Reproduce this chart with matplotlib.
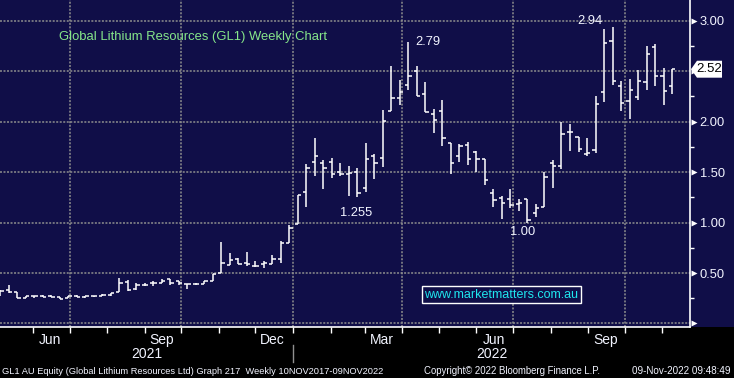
import matplotlib
matplotlib.use("Agg")
import matplotlib.pyplot as plt
import matplotlib.dates as mdates
import matplotlib.transforms as mtransforms
from matplotlib.patches import Rectangle, Polygon
import numpy as np
import pandas as pd

# weekly OHLC bars, GL1 AU
opens = [0.30, 0.33, 0.31, 0.25, 0.27, 0.27, 0.27, 0.26, 0.25, 0.27,
         0.26, 0.27, 0.27, 0.28, 0.31, 0.41, 0.34, 0.38, 0.40, 0.40,
         0.44, 0.42, 0.39, 0.39, 0.39, 0.42, 0.50, 0.58, 0.64, 0.60,
         0.57, 0.59, 0.59, 0.64, 0.80, 0.99, 1.30, 1.60, 1.59, 1.60,
         1.50, 1.48, 1.50, 1.345, 1.66, 1.64, 2.11, 2.23, 2.36, 2.50,
         2.27, 2.08, 2.11, 1.79, 1.66, 1.77, 1.70, 1.63, 1.295, 1.24,
         1.235, 1.18, 1.23, 1.09, 1.15, 1.59, 1.56, 1.90, 1.85, 1.68,
         1.715, 2.29, 2.80, 2.355, 2.205, 2.24, 2.39, 2.74, 2.45, 2.35]
highs = [0.33, 0.38, 0.31, 0.27, 0.27, 0.28, 0.28, 0.26, 0.27, 0.28,
         0.27, 0.27, 0.29, 0.30, 0.45, 0.43, 0.40, 0.40, 0.42, 0.44,
         0.44, 0.42, 0.39, 0.40, 0.42, 0.49, 0.81, 0.70, 0.65, 0.71,
         0.62, 0.62, 0.68, 0.82, 0.98, 1.27, 1.58, 1.84, 1.62, 1.64,
         1.59, 1.56, 1.54, 1.79, 1.68, 2.12, 2.55, 2.41, 2.79, 2.555,
         2.39, 2.13, 2.215, 1.79, 1.78, 1.795, 1.705, 1.63, 1.335, 1.26,
         1.33, 1.23, 1.23, 1.18, 1.50, 1.625, 2.00, 1.98, 1.85, 1.84,
         2.255, 2.92, 2.94, 2.40, 2.42, 2.51, 2.75, 2.77, 2.53, 2.52]
lows = [0.27, 0.30, 0.25, 0.25, 0.25, 0.26, 0.26, 0.24, 0.25, 0.26,
        0.25, 0.26, 0.27, 0.27, 0.31, 0.32, 0.33, 0.37, 0.37, 0.40,
        0.38, 0.38, 0.34, 0.38, 0.39, 0.42, 0.50, 0.58, 0.59, 0.57,
        0.56, 0.55, 0.59, 0.60, 0.80, 0.99, 1.15, 1.46, 1.33, 1.44,
        1.46, 1.26, 1.255, 1.30, 1.43, 1.55, 2.11, 2.17, 2.31, 2.25,
        2.095, 1.89, 1.755, 1.48, 1.60, 1.57, 1.50, 1.37, 1.15, 1.04,
        1.14, 1.11, 1.00, 1.06, 1.15, 1.34, 1.53, 1.71, 1.70, 1.66,
        1.69, 2.20, 2.365, 2.11, 2.03, 2.215, 2.315, 2.35, 2.17, 2.275]
closes = [0.32, 0.31, 0.25, 0.27, 0.27, 0.26, 0.26, 0.24, 0.27, 0.26,
          0.27, 0.27, 0.28, 0.30, 0.40, 0.33, 0.38, 0.38, 0.40, 0.42,
          0.40, 0.40, 0.39, 0.39, 0.42, 0.49, 0.60, 0.63, 0.59, 0.59,
          0.57, 0.60, 0.64, 0.80, 0.95, 1.27, 1.54, 1.66, 1.54, 1.48,
          1.48, 1.49, 1.29, 1.63, 1.59, 2.01, 2.23, 2.29, 2.45, 2.25,
          2.095, 2.02, 1.84, 1.59, 1.755, 1.63, 1.63, 1.42, 1.22, 1.19,
          1.17, 1.195, 1.03, 1.14, 1.455, 1.565, 1.88, 1.90, 1.73, 1.69,
          2.18, 2.775, 2.40, 2.19, 2.31, 2.40, 2.67, 2.45, 2.305, 2.52]
dates = pd.date_range(end="2022-11-09", periods=len(closes), freq="7D")

# labelled highs / lows: (text, which series, value, text offset in points)
marks = [("2.79", "high", 2.79, (14, 0)),
         ("2.94", "high", 2.94, (-16, 4)),
         ("1.255", "low", 1.255, (-1, -11.5)),
         ("1.00", "low", 1.00, (-3.5, -7))]

navy = "#100E48"
grid_c = "#8E8E8E"
txt_c = "#F2F4FF"
num_font = ["Liberation Sans", "DejaVu Sans"]

fig = plt.figure(figsize=(7.34, 3.78), dpi=100, facecolor="black")
ax_bottom = 51 / 378
fig.patches.append(Rectangle((0, ax_bottom), 1, 1 - ax_bottom, transform=fig.transFigure,
                             facecolor=navy, edgecolor="none", zorder=-5))
ax = fig.add_axes([0, ax_bottom, 690 / 734, 1 - ax_bottom])
ax.set_facecolor(navy)

x = mdates.date2num(dates)
ax.set_xlim(x[0] - 0.3, x[-1] + 14.8)
ax.set_ylim(-0.035, 3.206)

# grid
for yv in np.arange(0, 3.01, 0.5):
    ax.axhline(yv, color=grid_c, lw=1.1, ls=(0, (1.3, 1.0)), zorder=1)
for q in pd.date_range("2021-04-01", "2022-12-31", freq="QS"):
    qx = mdates.date2num(q)
    if ax.get_xlim()[0] < qx < ax.get_xlim()[1]:
        ax.axvline(qx, color=grid_c, lw=1.1, ls=(0, (1.3, 1.0)), zorder=1)

# OHLC bars
half = 2.6
ax.vlines(x, lows, highs, color="white", lw=1.1, zorder=3)
ax.hlines(opens, x - half, x, color="white", lw=1.1, zorder=3)
ax.hlines(closes, x, x + half, color="white", lw=1.1, zorder=3)

# annotations
for lab, kind, v, off in marks:
    series = highs if kind == "high" else lows
    i = series.index(v)
    ax.annotate(lab, (x[i], v), xytext=off,
                textcoords="offset points", ha="center", va="center",
                color=txt_c, fontsize=9.3, family=num_font, zorder=4)

ax.text(59 / 690, 1 - 37 / 327, "Global Lithium Resources (GL1) Weekly Chart",
        transform=ax.transAxes, color="#86E68A", fontsize=9.4, family=num_font,
        ha="left", va="center")

ax.text(501.5 / 690, (327 - 294.5) / 327, "www.marketmatters.com.au",
        transform=ax.transAxes, color="#1FE6EE", fontsize=9.0, family=num_font,
        ha="center", va="center",
        bbox=dict(boxstyle="square,pad=0.2", facecolor=navy, edgecolor="white", lw=1.0))

# spines
for s in ["top", "left"]:
    ax.spines[s].set_visible(False)
for s in ["right", "bottom"]:
    ax.spines[s].set_color("white")
    ax.spines[s].set_linewidth(1.2)

# right axis
last = closes[-1]
ax.yaxis.tick_right()
yt = np.arange(0, 3.01, 0.5)
ax.set_yticks(yt)
ax.set_yticklabels(["" if (v == 0 or abs(v - last) < 0.15) else f"{v:.2f}" for v in yt])
ax.set_yticks(np.arange(0.25, 3.0, 0.5), minor=True)
ax.tick_params(axis="y", which="major", length=0, pad=7, labelcolor=txt_c, labelsize=9.3)
ax.tick_params(axis="y", which="minor", length=3, width=1, color="white", direction="out")
for t in ax.get_yticklabels():
    t.set_family(num_font)
trans_y = mtransforms.blended_transform_factory(ax.transAxes, ax.transData)
ax.plot([1.006] * len(yt), yt, ls="none", marker=">", ms=4.5, color="white",
        mec="none", transform=trans_y, clip_on=False)

# last price tag
h = 0.084
tag = Polygon([(1.0015, last), (1.0101, last + h), (1.0464, last + h),
               (1.0464, last - h), (1.0101, last - h)], closed=True,
              facecolor="white", edgecolor="none", transform=trans_y, clip_on=False, zorder=5)
ax.add_patch(tag)
ax.text(1.028, last, f"{last:.2f}", transform=trans_y, color="black", fontsize=9.5,
        family=num_font, ha="center", va="center", zorder=6)

# bottom axis
ax.xaxis.set_major_locator(mdates.MonthLocator(bymonth=[3, 6, 9, 12], bymonthday=15))
ax.xaxis.set_major_formatter(mdates.DateFormatter("%b"))
ax.xaxis.set_minor_locator(mdates.MonthLocator())
ax.tick_params(axis="x", which="major", length=0, pad=4, labelcolor=txt_c, labelsize=10)
ax.tick_params(axis="x", which="minor", length=4, width=1, color="white", direction="out")
for t in ax.get_xticklabels():
    t.set_family(num_font)

trans_x = mtransforms.blended_transform_factory(ax.transData, ax.transAxes)
x0, x1 = ax.get_xlim()
ybreak = mdates.date2num(pd.Timestamp("2022-01-01"))
ax.text((x0 + ybreak) / 2, -0.083, "2021", transform=trans_x, color=txt_c, fontsize=10,
        family=num_font, ha="center", va="center")
ax.text((ybreak + x1) / 2, -0.083, "2022", transform=trans_x, color=txt_c, fontsize=10,
        family=num_font, ha="center", va="center")
ax.plot([ybreak, ybreak], [-0.055, -0.107], color="#909090", lw=1, transform=trans_x, clip_on=False)

# footer
fy = 7 / 378
fig.text(2 / 734, fy, "GL1 AU Equity (Global Lithium Resources Ltd) Graph 217  Weekly 10NOV2017-09NOV2022",
         color=txt_c, fontsize=6.7, family=num_font, ha="left", va="center")
fig.text(424 / 734, fy, "Copyright\u00a9 2022 Bloomberg Finance L.P.",
         color=txt_c, fontsize=6.9, family=num_font, ha="left", va="center")
fig.text(731 / 734, fy, "09-Nov-2022 09:48:49",
         color=txt_c, fontsize=7.1, family=num_font, ha="right", va="center")

fig.savefig("out.png", dpi=100, facecolor=fig.get_facecolor())
